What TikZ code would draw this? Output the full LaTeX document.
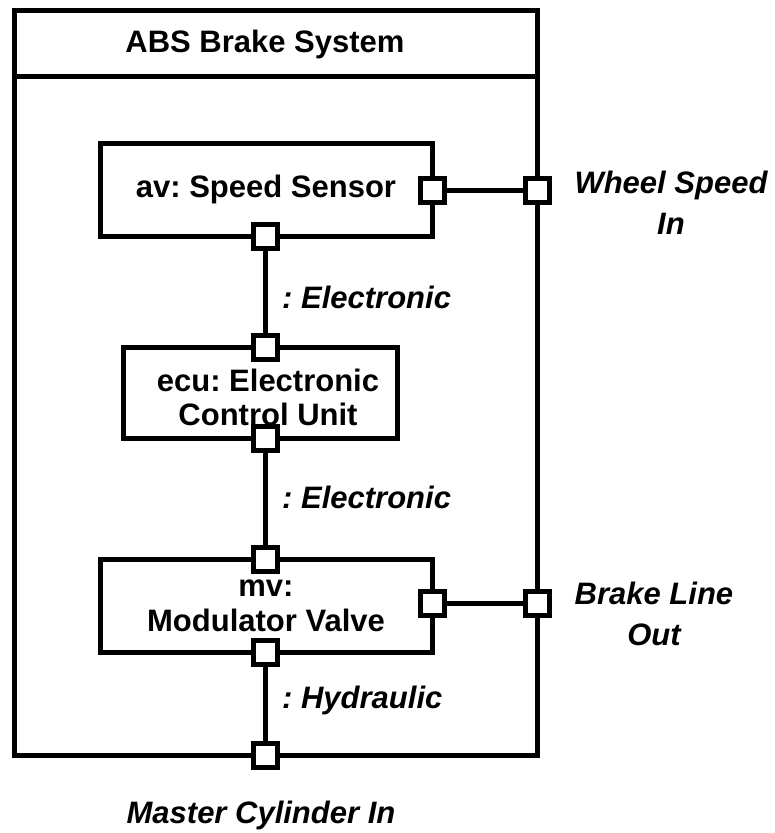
\documentclass[tikz,border=0pt]{standalone}
\usepackage{fontspec}
\setmainfont{Liberation Sans}
\usetikzlibrary{backgrounds}
\frenchspacing
\tikzset{
  lw/.style={line width=5pt},
  partbox/.style={lw, draw=black, rectangle, inner sep=0pt, align=center,
    font=\fontsize{31}{34}\selectfont\bfseries},
  portbox/.style={lw, draw=black, fill=white, rectangle, inner sep=0pt, minimum size=24pt},
  conn/.style={lw, draw=black},
  clabel/.style={font=\fontsize{31}{34}\selectfont\bfseries\itshape, anchor=west, inner sep=0pt},
  plabel/.style={font=\fontsize{31}{41}\selectfont\bfseries\itshape, align=center, inner sep=0pt},
}
\begin{document}
\begin{tikzpicture}[x=1pt,y=-1pt]
\useasboundingbox (0,0) rectangle (775,833);
% outer frame
\node[lw, draw=black, rectangle, inner sep=0pt, minimum width=523pt, minimum height=745pt] (frame) at (275.5,382.5) {};
\coordinate (divL) at (14,76);
\coordinate (divR) at (537,76);
\draw[lw] (divL) -- (divR);
\node[font=\fontsize{31}{34}\selectfont\bfseries, inner sep=0pt] (title) at (265,44) {ABS Brake System};
% parts
\node[partbox, minimum width=332pt, minimum height=93pt] (ss) at (266,189.5) {av: Speed Sensor};
\node[partbox, minimum width=274pt, minimum height=91pt] (ecu) at (260,392.5) {};
\node[font=\fontsize{31}{34}\selectfont\bfseries, align=center, inner sep=0pt] (ecutxt) at (268,397) {ecu: Electronic\\Control Unit};
\node[partbox, minimum width=332pt, minimum height=93pt] (mv) at (266,605.5) {};
\node[font=\fontsize{31}{35}\selectfont\bfseries, align=center, inner sep=0pt] (mvtxt) at (266,606) {mv:\\Modulator Valve};
% ports
\node[portbox] (ssB) at (265,236) {};
\node[portbox] (ssR) at (432,190) {};
\node[portbox] (wheel) at (537,190) {};
\node[portbox] (ecuT) at (265,347) {};
\node[portbox] (ecuB) at (265,438) {};
\node[portbox] (mvT) at (265,559) {};
\node[portbox] (mvB) at (265,652) {};
\node[portbox] (mvR) at (432,603) {};
\node[portbox] (brake) at (537,603) {};
\node[portbox] (master) at (265,755) {};
% connectors
\begin{pgfonlayer}{background}
\draw[conn] (ssR) -- (wheel);
\draw[conn] (ssB) -- (ecuT);
\draw[conn] (ecuB) -- (mvT);
\draw[conn] (mvR) -- (brake);
\draw[conn] (mvB) -- (master);
\end{pgfonlayer}
% connector labels
\node[clabel] (l1) at (282,297) {: Electronic};
\node[clabel] (l2) at (282,497) {: Electronic};
\node[clabel] (l3) at (282,700) {: Hydraulic};
% port labels
\node[plabel] (wheeltxt) at (671,203) {Wheel Speed\\In};
\node[plabel] (braketxt) at (654,614) {Brake Line\\Out};
\node[plabel] (mastertxt) at (261,815) {Master Cylinder In};
\end{tikzpicture}
\end{document}
